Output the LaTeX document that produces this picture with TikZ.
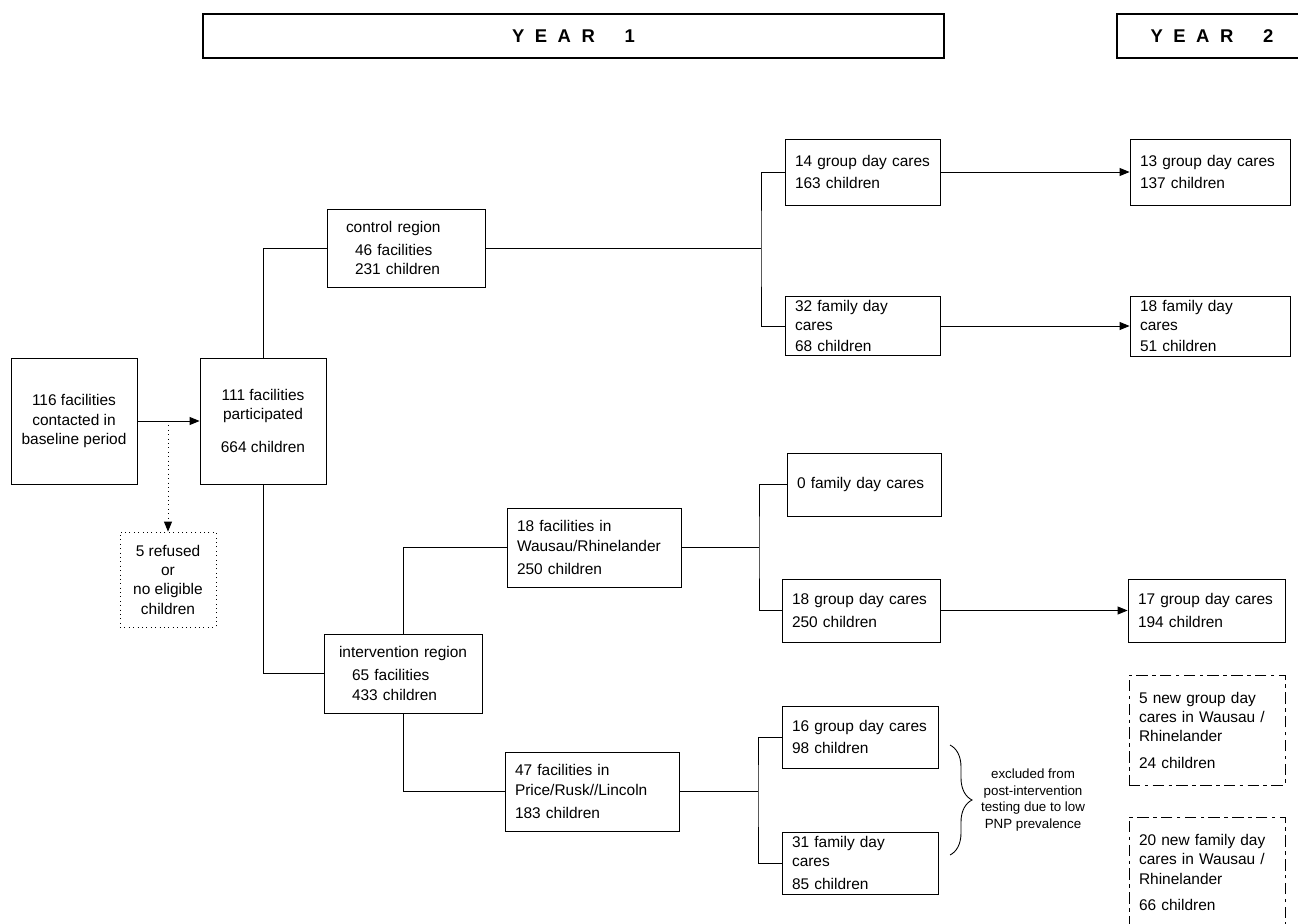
\documentclass[tikz,border=0pt]{standalone}
\usepackage{fontspec}
\setmainfont{Liberation Sans}
\usetikzlibrary{arrows.meta,decorations.pathreplacing}
\newcommand{\yeartext}[1]{Y\hspace{6pt}E\hspace{6pt}A\hspace{6pt}R\hspace{17pt}#1}

\begin{document}
\begin{tikzpicture}[x=0.02cm, y=-0.02cm, line width=0.5pt,
    box/.style={draw, align=left, inner xsep=0.2cm, inner ysep=0pt, font=\fontsize{8.8}{11}\selectfont},
    cbox/.style={draw, align=center, inner sep=0pt, font=\fontsize{8.8}{11}\selectfont},
    newbox/.style={box, dash pattern=on 6.5pt off 2.5pt on 2pt off 2.5pt},
    yearbox/.style={draw, line width=1pt, minimum height=0.88cm, font=\fontsize{10.5}{12}\selectfont\bfseries},
    arr/.style={-{Triangle[length=2mm,width=1.6mm]}}]
    \useasboundingbox (0,0) rectangle (1298,923);

    % Year headings
    \node[yearbox, minimum width=14.82cm] (year1) at (573.5,36) {\yeartext{1}};
    \node[yearbox, minimum width=3.8cm] (year2) at (1212,36) {\yeartext{2}};

    % Baseline
    \node[cbox, minimum width=2.52cm, minimum height=2.52cm] (contacted) at (74,421) {116 facilities\\contacted in\\baseline period};
    \node[cbox, minimum width=2.52cm, minimum height=2.52cm] (part) at (263,421) {111 facilities\\participated\\[8pt]664 children};
    \node[cbox, dotted, minimum width=1.92cm, minimum height=1.9cm] (refused) at (168,579.5) {5 refused\\or\\no eligible\\children};

    % Regions
    \node[box, text width=2.76cm, minimum height=1.56cm] (control) at (406,248) {\hspace*{0.18cm}control region\\[2pt]\hspace*{0.36cm}46 facilities\\\hspace*{0.36cm}231 children};
    \node[box, text width=2.76cm, minimum height=1.58cm] (interv) at (403,673.5) {\hspace*{0.1cm}intervention region\\[2pt]\hspace*{0.36cm}65 facilities\\\hspace*{0.36cm}433 children};
    \node[box, text width=3.08cm, minimum height=1.58cm] (wausau) at (594,547.5) {18 facilities in\\Wausau/Rhinelander\\[2pt]250 children};
    \node[box, text width=3.08cm, minimum height=1.58cm] (price) at (592,791.5) {47 facilities in\\Price/Rusk//Lincoln\\[2pt]183 children};

    % Year 1 day cares
    \node[box, text width=2.7cm, minimum height=1.32cm] (grp14) at (862.5,172) {14 group day cares\\[2pt]163 children};
    \node[box, text width=2.7cm, minimum height=1.18cm] (fam32) at (862.5,326) {32 family day\\cares\\[1pt]68 children};
    \node[box, text width=2.68cm, minimum height=1.26cm] (fam0) at (864,484.5) {0 family day cares};
    \node[box, text width=2.76cm, minimum height=1.26cm] (grp18) at (861,610.5) {18 group day cares\\[2pt]250 children};
    \node[box, text width=2.72cm, minimum height=1.24cm] (grp16) at (860,737) {16 group day cares\\[2pt]98 children};
    \node[box, text width=2.72cm, minimum height=1.24cm] (fam31) at (860,863) {31 family day\\cares\\[2pt]85 children};

    % Year 2 day cares
    \node[box, text width=2.8cm, minimum height=1.32cm] (grp13) at (1210,172) {13 group day cares\\[2pt]137 children};
    \node[box, text width=2.8cm, minimum height=1.2cm] (fam18) at (1210,326) {18 family day\\cares\\[1pt]51 children};
    \node[box, text width=2.74cm, minimum height=1.26cm] (grp17) at (1206.5,610.5) {17 group day cares\\[2pt]194 children};
    \node[newbox, text width=2.72cm, minimum height=2.2cm] (new5) at (1207,730) {5 new group day\\cares in Wausau /\\Rhinelander\\[4pt]24 children};
    \node[newbox, text width=2.72cm, minimum height=2.22cm] (new20) at (1207,872.5) {20 new family day\\cares in Wausau /\\Rhinelander\\[4pt]66 children};

    % connectors
    \draw[arr] (contacted) -- (part);
    \draw[dotted, arr] (contacted.east -| refused.north) -- (refused.north);
    \draw (part.north) |- (control.west);
    \draw (part.south) |- (interv.west);
    \draw (interv.north) |- (wausau.west);
    \draw (interv.south) |- (price.west);

    \coordinate (ctrlsplit) at (761,248);
    \draw (control.east) -- (ctrlsplit);
    \draw (grp14.west) -| (ctrlsplit) |- (fam32.west);
    \draw[arr] (grp14) -- (grp13);
    \draw[arr] (fam32) -- (fam18);

    \coordinate (wsplit) at (759,547.5);
    \draw (wausau.east) -- (wsplit);
    \draw (fam0.west) -| (wsplit) |- (grp18.west);
    \draw[arr] (grp18) -- (grp17);

    \coordinate (psplit) at (758,791.5);
    \draw (price.east) -- (psplit);
    \draw (grp16.west) -| (psplit) |- (fam31.west);

    % excluded
    \coordinate (bracetop) at (950,745);
    \coordinate (bracebot) at (950,855);
    \draw[decorate, decoration={brace, amplitude=0.44cm}] (bracetop) -- (bracebot);
    \node[align=center, font=\fontsize{7.6}{9.6}\selectfont] (excluded) at (1033,800) {excluded from\\post-intervention\\testing due to low\\PNP prevalence};
\end{tikzpicture}
\end{document}
